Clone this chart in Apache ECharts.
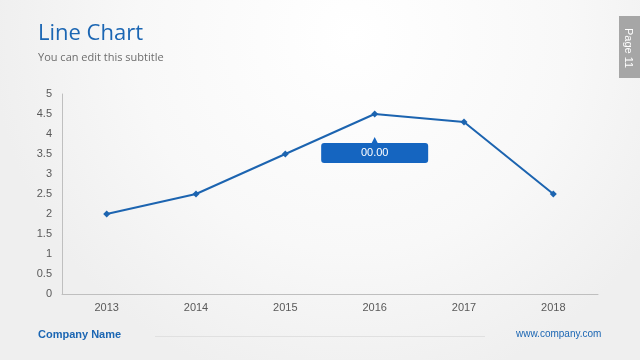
<!DOCTYPE html>
<html><head><meta charset="utf-8">
<script src="https://cdn.jsdelivr.net/npm/echarts@6/dist/echarts.min.js"></script>
<style>html,body{margin:0;padding:0;}#c{width:640px;height:360px;}</style>
</head><body><div id="c"></div>
<script>
const categories = ['2013','2014','2015','2016','2017','2018'];
const values = [2.0, 2.5, 3.5, 4.5, 4.3, 2.5];
const yTicks = [0, 0.5, 1, 1.5, 2, 2.5, 3, 3.5, 4, 4.5, 5];
const calloutCategory = '2016';
const calloutValue = 3.85;
const calloutText = '00.00';

const blue = '#1c64b0';
const chart = echarts.init(document.getElementById('c'), null, {renderer:'canvas'});
chart.setOption({
  backgroundColor: {
    type: 'radial', x: 0.55, y: 0.1, r: 1.0,
    colorStops: [{offset:0, color:'#ffffff'},{offset:0.6, color:'#f8f8f8'},{offset:1, color:'#efefef'}]
  },
  animation: false,
  title: [{
    text: 'Line Chart', left: 38, top: 23, padding: 0,
    textStyle: {fontFamily:'Open Sans', fontSize: 22, fontWeight: 'normal', color: '#1b66b3'}
  },{
    text: 'You can edit this subtitle', left: 38, top: 52, padding: 0,
    textStyle: {fontFamily:'Open Sans', fontSize: 11, fontWeight: 'normal', color: '#6d6d6d'}
  }],
  graphic: [
    {type:'rect', right: 0, top: 16, shape:{width:21, height:62}, style:{fill:'#a6a6a6'}},
    {type:'text', left: 623, top: 28, rotation: -Math.PI/2,
     style:{text:'Page 11', fill:'#ffffff', font:'11px "Liberation Sans"'}},
    {type:'text', left: 38, top: 329, style:{text:'Company Name', fill:'#1b66b3', font:'bold 11px "Liberation Sans"'}},
    {type:'rect', left: 155, top: 336, shape:{width:330, height:1}, style:{fill:'#e0e0e0'}},
    {type:'text', left: 516, top: 329, style:{text:'www.company.com', fill:'#1b66b3', font:'10px "Liberation Sans"'}}
  ],
  grid: {left: 62, right: 42, top: 94, bottom: 66},
  xAxis: {
    type: 'category', data: categories, boundaryGap: true,
    axisLine: {lineStyle:{color:'#bfbfbf', width:1}},
    axisTick: {show:false},
    axisLabel: {color:'#595959', fontFamily:'Liberation Sans', fontSize: 11, margin: 8}
  },
  yAxis: {
    type: 'value', min: 0, max: 5, interval: 0.5,
    axisLine: {show:true, lineStyle:{color:'#bfbfbf', width:1}},
    axisTick: {show:false},
    splitLine: {show:false},
    axisLabel: {color:'#595959', fontFamily:'Liberation Sans', fontSize: 11, margin: 10,
      formatter: v => yTicks.includes(v) ? String(v) : ''}
  },
  series: [{
    type: 'line', data: values,
    symbol: 'diamond', symbolSize: 7,
    lineStyle: {color: blue, width: 2},
    itemStyle: {color: blue}
  },{
    type: 'scatter',
    data: [[calloutCategory, calloutValue]],
    symbol: 'triangle', symbolSize: [6, 6],
    itemStyle: {color: '#1565c0', opacity: 1},
    label: {
      show: true, position: 'bottom', distance: 0,
      formatter: calloutText,
      color: '#ffffff', fontFamily:'Liberation Sans', fontSize: 11,
      backgroundColor: '#1565c0', borderRadius: 3,
      width: 107, height: 20, lineHeight: 20, align: 'center', padding: 0
    }
  }]
});
</script></body></html>
